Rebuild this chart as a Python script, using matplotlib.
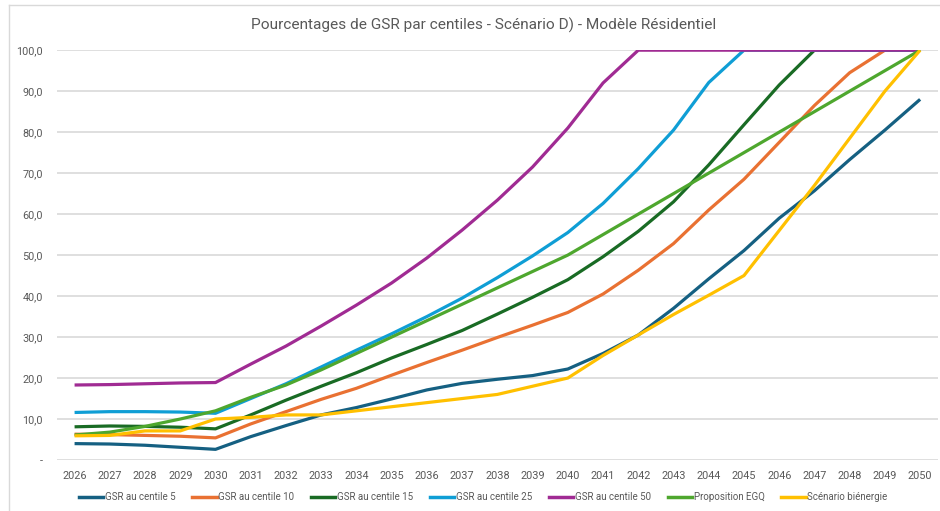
import numpy as np
import matplotlib
matplotlib.use("Agg")
import matplotlib.pyplot as plt
from matplotlib.lines import Line2D

years = list(range(2026, 2051))

centile_5 = [4.0, 3.9, 3.6, 3.1, 2.6, 5.7, 8.4, 11.0, 12.8, 14.9, 17.1, 18.7, 19.7, 20.6, 22.2,
             26.0, 30.5, 37.0, 44.2, 51.1, 59.0, 65.7, 73.3, 80.5, 88.0]
centile_10 = [6.3, 6.2, 6.0, 5.8, 5.4, 8.8, 11.8, 14.8, 17.5, 20.7, 23.8, 26.8, 29.9, 32.9, 36.0,
              40.5, 46.3, 52.8, 61.0, 68.5, 77.5, 86.5, 94.5, 100.0, 100.0]
centile_15 = [8.1, 8.3, 8.2, 8.0, 7.6, 11.0, 14.6, 18.0, 21.3, 24.9, 28.2, 31.6, 35.6, 39.7, 44.0,
              49.6, 55.8, 63.0, 72.0, 81.8, 91.5, 100.0, 100.0, 100.0, 100.0]
centile_25 = [11.6, 11.8, 11.8, 11.7, 11.4, 15.0, 18.6, 22.7, 26.8, 30.8, 35.0, 39.5, 44.5, 49.8, 55.5,
              62.6, 71.1, 80.5, 92.1, 100.0, 100.0, 100.0, 100.0, 100.0, 100.0]
centile_50 = [18.3, 18.4, 18.6, 18.8, 18.9, 23.4, 27.8, 32.7, 37.8, 43.2, 49.3, 56.1, 63.4, 71.5, 81.0,
              92.0, 100.0, 100.0, 100.0, 100.0, 100.0, 100.0, 100.0, 100.0, 100.0]
egq = [6.1, 6.8, 8.2, 10.0, 12.0, 15.3, 18.3, 22.0, 26.0, 30.0, 34.0, 38.0, 42.0, 46.0, 50.0,
       55.0, 60.0, 65.0, 70.0, 75.0, 80.0, 85.0, 90.0, 95.0, 100.0]
bienergie = [5.9, 6.0, 7.1, 7.1, 10.0, 10.4, 11.0, 11.0, 12.0, 13.0, 14.0, 15.0, 16.0, 18.0, 20.0,
             25.5, 30.5, 35.5, 40.2, 45.0, 56.0, 67.0, 78.5, 90.0, 100.0]

series = [
    ("GSR au centile 5", centile_5, "#156082"),
    ("GSR au centile 10", centile_10, "#E97132"),
    ("GSR au centile 15", centile_15, "#196B24"),
    ("GSR au centile 25", centile_25, "#0F9ED5"),
    ("GSR au centile 50", centile_50, "#A02B93"),
    ("Proposition EGQ", egq, "#4EA72E"),
    ("Scénario biénergie", bienergie, "#FFC000"),
]

plt.rcParams["font.family"] = ["Roboto", "DejaVu Sans"]

fig = plt.figure(figsize=(9.4, 5.11), dpi=100)
ax = fig.add_axes([0.0606, 0.0998, 0.937, 0.802])

x = np.arange(len(years))
for name, vals, col in series:
    ax.plot(x, vals, color=col, lw=2.3, label=name, solid_capstyle="butt", zorder=3)

ax.set_xlim(-0.5, len(years) - 0.5)
ax.set_ylim(0, 100)
ax.set_xticks(x)
ax.set_xticklabels([str(y) for y in years])
yt = np.arange(0, 101, 10)
ax.set_yticks(yt)
ax.set_yticklabels(["-" if v == 0 else f"{v:.1f}".replace(".", ",") for v in yt])
ax.tick_params(length=0, colors="#595959", labelsize=7.8)
ax.tick_params(axis="y", pad=10)
ax.tick_params(axis="x", pad=8)
ax.grid(axis="y", color="#D9D9D9", lw=1.2, zorder=0)
ax.set_axisbelow(True)
for s in ax.spines.values():
    s.set_visible(False)

fig.text(0.514, 0.951, "Pourcentages de GSR par centiles - Scénario D) - Modèle Résidentiel",
         ha="center", va="center", fontsize=11.1, color="#595959")

handles = [Line2D([0], [0], color=c, lw=2.5) for _, _, c in series]
fig.legend(handles, [n for n, _, _ in series], loc="center", bbox_to_anchor=(0.514, 0.027),
           ncol=7, frameon=False, fontsize=7, handlelength=2.5, handletextpad=0.15,
           columnspacing=1.75, labelcolor="#595959")

# light frame of the chart area
fig.add_artist(Line2D([9 / 940, 9 / 940], [0, 1 - 5 / 511], transform=fig.transFigure,
                      color="#D9D9D9", lw=1))
fig.add_artist(Line2D([9 / 940, 1], [1 - 5 / 511, 1 - 5 / 511], transform=fig.transFigure,
                      color="#D9D9D9", lw=1))

fig.savefig("out.png", dpi=100)
